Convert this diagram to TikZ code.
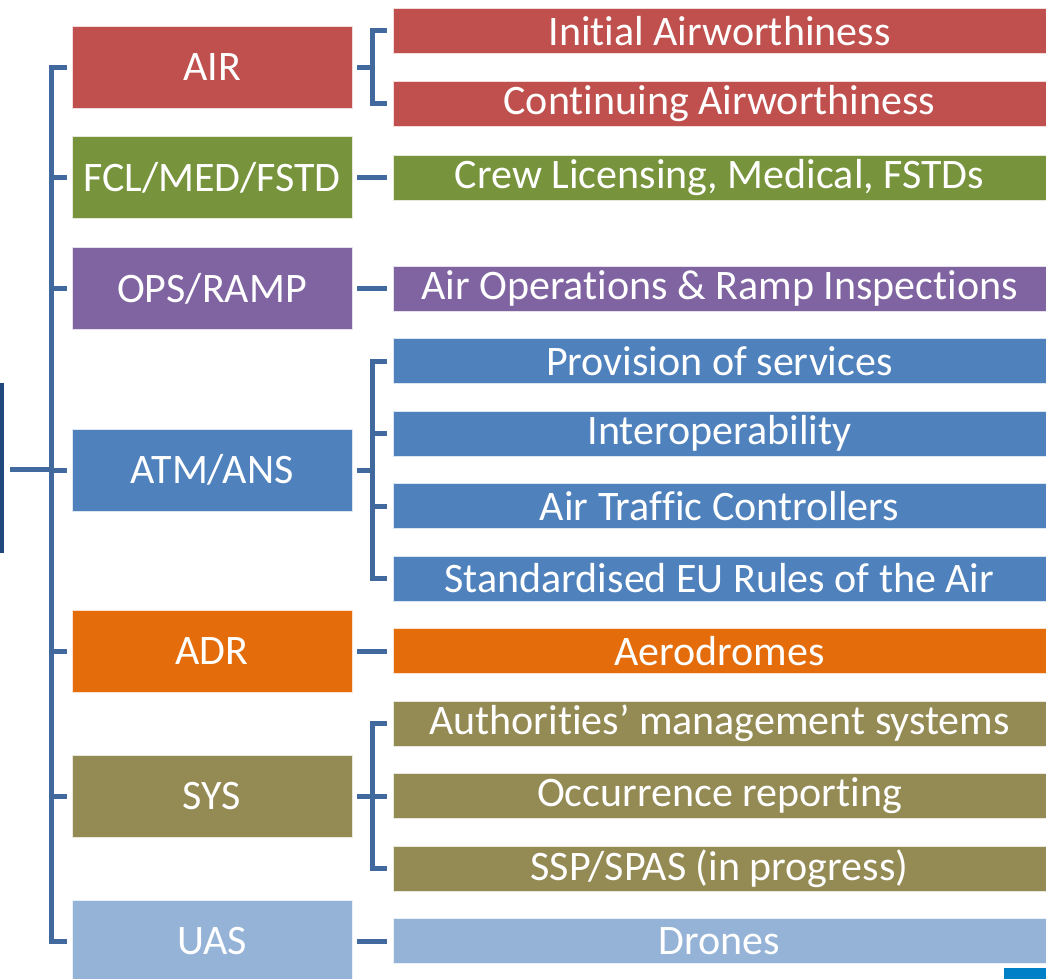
\documentclass[tikz,border=0pt]{standalone}
\usepackage{fontspec}
\setmainfont{Carlito}[Ligatures=NoCommon]
\newcommand\nolig{\kern0pt\relax}
\definecolor{cRed}{HTML}{C0504D}
\definecolor{cGreen}{HTML}{77933C}
\definecolor{cPurple}{HTML}{8064A2}
\definecolor{cBlue}{HTML}{4F81BD}
\definecolor{cOrange}{HTML}{E46C0A}
\definecolor{cOlive}{HTML}{948A54}
\definecolor{cLight}{HTML}{95B3D7}
\definecolor{cLine}{HTML}{41699D}
\definecolor{cRoot}{HTML}{1F497D}
\definecolor{cCorner}{HTML}{0080C6}
\tikzset{
  lbox/.style={rectangle, minimum width=280pt, minimum height=82pt, inner sep=0pt, text=white, font=\fontsize{42}{42}\selectfont, draw=white!80!#1, line width=0.8pt, fill=#1},
  rbox/.style={rectangle, minimum width=653pt, minimum height=45pt, inner sep=0pt, text=white, font=\fontsize{42}{42}\selectfont, draw=white!80!#1, line width=0.8pt, fill=#1},
  conn/.style={draw=cLine, line width=5pt},
}
\begin{document}
\begin{tikzpicture}[x=1pt,y=-1pt]
\useasboundingbox (0,0) rectangle (1046,979);
% root (cropped)
\fill[cRoot] (-10,383) rectangle (4,553);
\node[inner sep=0pt, minimum size=0pt] (root) at (4,469) {};
% left boxes
\node[lbox=cRed]    (air) at (212,67.5) {AIR};
\node[lbox=cGreen]  (fcl) at (212,177.5) {FCL/MED/FSTD};
\node[lbox=cPurple] (ops) at (212,288.5) {OPS/RAMP};
\node[lbox=cBlue]   (atm) at (212,470) {ATM/ANS};
\node[lbox=cOrange] (adr) at (212,651) {ADR};
\node[lbox=cOlive]  (sys) at (212,796) {SYS};
\node[lbox=cLight]  (uas) at (212,941) {UAS};
% right boxes
\node[rbox=cRed]    (r1)  at (719.5,31)    {Init\nolig ial Airworthiness};
\node[rbox=cRed]    (r2)  at (719.5,103.5) {Cont\nolig inuing Airworthiness};
\node[rbox=cGreen]  (r3)  at (719.5,177.5) {Crew Licensing, Medical, FSTDs};
\node[rbox=cPurple] (r4)  at (719.5,288.5) {Air Operat\nolig ions \& Ramp Inspect\nolig ions};
\node[rbox=cBlue]   (r5)  at (719.5,361)   {Provision of services};
\node[rbox=cBlue]   (r6)  at (719.5,433.5) {Interoperability};
\node[rbox=cBlue]   (r7)  at (719.5,506)   {Air Traf\nolig f\nolig ic Controllers};
\node[rbox=cBlue]   (r8)  at (719.5,578.5) {Standardised EU Rules of the Air};
\node[rbox=cOrange] (r9)  at (719.5,651)   {Aerodromes};
\node[rbox=cOlive]  (r10) at (719.5,723.5) {Authorit\nolig ies’ management systems};
\node[rbox=cOlive]  (r11) at (719.5,796)   {Occurrence reporting};
\node[rbox=cOlive]  (r12) at (719.5,868.5) {SSP/SPAS (in progress)};
\node[rbox=cLight]  (r13) at (719.5,941)   {Drones};
% corner mark
\fill[cCorner] (1004,968) rectangle (1050,985);
% trunk
\coordinate (tx) at (51,0);
\coordinate (bx) at (372,0);
\draw[conn] ([xshift=6pt]root.east) -- (root -| tx);
\draw[conn] ([xshift=-5pt]air.west) -- (air.west -| tx) -- (uas.west -| tx) -- ([xshift=-5pt]uas.west);
\foreach \n in {fcl,ops,atm,adr,sys}
  \draw[conn] (\n.west -| tx) -- ([xshift=-5pt]\n.west);
% single links
\draw[conn] ([xshift=5pt]fcl.east) -- ([xshift=-6pt]r3.west);
\draw[conn] ([xshift=5pt]ops.east) -- ([xshift=-6pt]r4.west);
\draw[conn] ([xshift=5pt]adr.east) -- ([xshift=-6pt]r9.west);
\draw[conn] ([xshift=5pt]uas.east) -- ([xshift=-6pt]r13.west);
% brackets
\draw[conn] ([xshift=-6pt]r1.west) -- (r1.west -| bx) -- (r2.west -| bx) -- ([xshift=-6pt]r2.west);
\draw[conn] ([xshift=5pt]air.east) -- (air.east -| bx);
\draw[conn] ([xshift=-6pt]r5.west) -- (r5.west -| bx) -- (r8.west -| bx) -- ([xshift=-6pt]r8.west);
\draw[conn] ([xshift=5pt]atm.east) -- (atm.east -| bx);
\foreach \n in {r6,r7} \draw[conn] (\n.west -| bx) -- ([xshift=-6pt]\n.west);
\draw[conn] ([xshift=-6pt]r10.west) -- (r10.west -| bx) -- (r12.west -| bx) -- ([xshift=-6pt]r12.west);
\draw[conn] ([xshift=5pt]sys.east) -- (sys.east -| bx);
\draw[conn] (r11.west -| bx) -- ([xshift=-6pt]r11.west);
\end{tikzpicture}
\end{document}
